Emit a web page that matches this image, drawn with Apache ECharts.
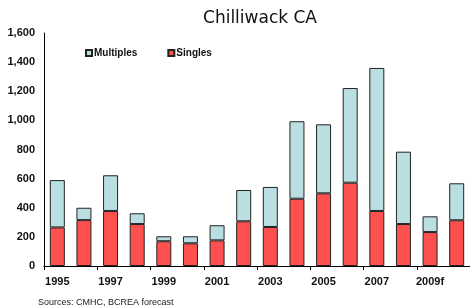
<!DOCTYPE html>
<html>
<head>
<meta charset="utf-8">
<script src="https://cdn.jsdelivr.net/npm/echarts@6/dist/echarts.min.js"></script>
<style>
  html, body { margin: 0; padding: 0; background: #fff; }
  #chart { width: 470px; height: 308px; }
</style>
</head>
<body>
<div id="chart"></div>
<script>
// years, last two are forecasts
var years = ['1995', '1996', '1997', '1998', '1999', '2000', '2001', '2002',
  '2003', '2004', '2005', '2006', '2007', '2008', '2009f', '2010f'];
var singles = [265, 315, 378, 288, 170, 156, 176, 307, 268, 462, 499, 572, 378, 288, 233, 314];
var multiples = [325, 85, 245, 74, 34, 48, 104, 215, 275, 532, 474, 650, 982, 497, 108, 254];

var chart = echarts.init(document.getElementById('chart'));

var option = {
  animation: false,
  title: {
    text: 'Chilliwack CA',
    left: 255,
    top: 5,
    textAlign: 'center',
    textStyle: { fontFamily: 'DejaVu Sans', fontSize: 17, fontWeight: 'normal', color: '#111' }
  },
  legend: {
    left: 80,
    top: 43,
    itemWidth: 6,
    itemHeight: 6,
    itemGap: 30,
    icon: 'rect',
    textStyle: { fontFamily: 'Liberation Sans', fontSize: 10, fontWeight: 'bold', color: '#111', padding: [0, 0, 0, -3] },
    data: ['Multiples', 'Singles']
  },
  grid: { left: 44, right: 0, top: 33, bottom: 42 },
  xAxis: {
    type: 'category',
    data: years,
    axisLine: { lineStyle: { color: '#000', width: 1 } },
    axisTick: { show: true, alignWithLabel: false, length: 4, inside: false, lineStyle: { color: '#000' } },
    axisLabel: {
      interval: 1,
      margin: 10,
      fontFamily: 'Liberation Sans',
      fontSize: 11,
      fontWeight: 'bold',
      color: '#111'
    }
  },
  yAxis: {
    type: 'value',
    min: 0,
    max: 1600,
    interval: 200,
    axisLine: { show: true, lineStyle: { color: '#000', width: 1 } },
    axisTick: { show: false },
    splitLine: { show: false },
    axisLabel: {
      margin: 9,
      fontFamily: 'Liberation Sans',
      fontSize: 11,
      fontWeight: 'bold',
      color: '#111',
      formatter: function (v) { return v.toLocaleString('en-US'); }
    }
  },
  series: [
    {
      name: 'Singles',
      type: 'bar',
      stack: 'total',
      barWidth: 15,
      data: singles,
      itemStyle: { color: '#FF5050', borderColor: '#222', borderWidth: 1 }
    },
    {
      name: 'Multiples',
      type: 'bar',
      stack: 'total',
      barWidth: 15,
      data: multiples,
      itemStyle: { color: '#BADFE2', borderColor: '#222', borderWidth: 1 }
    }
  ],
  graphic: [
    {
      type: 'text',
      left: 38,
      top: 298,
      style: {
        text: 'Sources: CMHC, BCREA forecast',
        font: '9px "Liberation Sans"',
        fill: '#222'
      }
    }
  ]
};

chart.setOption(option);
</script>
</body>
</html>
